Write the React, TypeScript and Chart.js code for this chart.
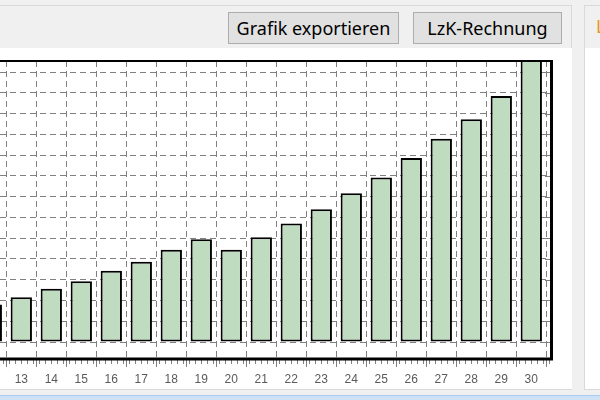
import React, { useEffect, useRef } from 'react';
import { Chart, registerables } from 'chart.js';

Chart.register(...registerables);

// ---- data ----
const days = [12, 13, 14, 15, 16, 17, 18, 19, 20, 21, 22, 23, 24, 25, 26, 27, 28, 29, 30];
const values = [1.8, 2.15, 2.57, 2.92, 3.43, 3.86, 4.44, 4.95, 4.44, 5.04, 5.71, 6.39, 7.16, 7.92, 8.86, 9.79, 10.73, 11.84, 13.6];
const yGridValues = [0, 1, 2, 3, 4, 5, 6, 7, 8, 9, 10, 11, 12, 13];
const buttonLabels = ['Grafik exportieren', 'LzK-Rechnung'];

const GRID = '#808080';

const framePlugin = {
  id: 'frame',
  afterDraw(chart: any) {
    const { ctx, chartArea: a, scales } = chart;
    const xs = scales.x;
    const ys = scales.y;
    ctx.save();
    // minor ticks below the frame (5 per day)
    ctx.strokeStyle = GRID;
    ctx.lineWidth = 1;
    ctx.beginPath();
    const start = Math.ceil(xs.min * 5);
    const end = Math.floor(xs.max * 5);
    for (let k = start; k <= end; k++) {
      const px = Math.round(xs.getPixelForValue(k / 5)) + 0.5;
      ctx.moveTo(px, a.bottom);
      ctx.lineTo(px, a.bottom + 6);
    }
    // inner ticks on the right border
    ys.ticks.forEach((t: any) => {
      const py = Math.round(ys.getPixelForValue(t.value)) + 0.5;
      ctx.moveTo(a.right - 6, py);
      ctx.lineTo(a.right, py);
    });
    ctx.stroke();
    // frame
    ctx.strokeStyle = '#000';
    ctx.lineWidth = 2;
    ctx.beginPath();
    ctx.moveTo(a.left, a.top);
    ctx.lineTo(a.right, a.top);
    ctx.stroke();
    ctx.lineWidth = 3;
    ctx.beginPath();
    ctx.moveTo(a.right + 0.5, a.top - 1);
    ctx.lineTo(a.right + 0.5, a.bottom + 2.5);
    ctx.moveTo(a.left, a.bottom + 1);
    ctx.lineTo(a.right + 2, a.bottom + 1);
    ctx.stroke();
    ctx.restore();
  },
};

function BarChart() {
  const ref = useRef<HTMLCanvasElement | null>(null);
  useEffect(() => {
    if (!ref.current) return;
    const chart = new Chart(ref.current, {
      type: 'bar',
      data: {
        datasets: [
          {
            data: days.map((d, i) => ({ x: d, y: values[i] })),
            backgroundColor: '#c0dcc0',
            borderColor: '#000000',
            borderWidth: 2,
            borderSkipped: false,
            barPercentage: 0.71,
            categoryPercentage: 1,
            clip: 0,
          } as any,
        ],
      },
      options: {
        responsive: false,
        animation: false,
        layout: { padding: { top: 13, right: 21, bottom: 0, left: 0 } },
        plugins: { legend: { display: false }, tooltip: { enabled: false } },
        scales: {
          x: {
            type: 'linear',
            min: 12.29,
            max: 30.657,
            offset: false,
            afterBuildTicks: (s: any) => {
              s.ticks = days.filter((d) => d >= s.min && d <= s.max).map((v) => ({ value: v }));
            },
            ticks: {
              font: { family: 'Liberation Sans', size: 12, lineHeight: 1.25 },
              color: '#5a5a5a',
              padding: 5,
              maxRotation: 0,
              autoSkip: false,
            },
            grid: {
              color: GRID,
              lineWidth: 1,
              drawTicks: true,
              tickLength: 9,
              tickColor: GRID,
              tickBorderDash: [],
            },
            border: { display: false, dash: [6, 4] },
          } as any,
          y: {
            type: 'linear',
            min: -0.77,
            max: 13.53,
            afterBuildTicks: (s: any) => {
              s.ticks = yGridValues.map((v) => ({ value: v }));
            },
            ticks: { display: false },
            grid: { color: GRID, lineWidth: 1, drawTicks: false },
            border: { display: false, dash: [6, 4] },
          } as any,
        },
      },
      plugins: [framePlugin],
    });
    return () => chart.destroy();
  }, []);
  return (
    <canvas
      ref={ref}
      width={572}
      height={344}
      style={{ position: 'absolute', left: 0, top: 48, width: 572, height: 344 }}
    />
  );
}

const buttonStyle: React.CSSProperties = {
  position: 'absolute',
  top: 12,
  height: 32,
  boxSizing: 'border-box',
  background: '#e1e1e1',
  border: '1px solid #adadad',
  fontFamily: 'Noto Sans',
  fontSize: 18,
  color: '#000',
  display: 'flex',
  alignItems: 'center',
  justifyContent: 'center',
  whiteSpace: 'nowrap',
};

export default function App() {
  return (
    <div
      style={{
        position: 'fixed',
        left: 0,
        top: 0,
        width: 600,
        height: 400,
        overflow: 'hidden',
        background: '#f0f0f0',
        fontFamily: 'Noto Sans',
      }}
    >
      {/* left panel */}
      <div
        style={{
          position: 'absolute',
          left: -1,
          top: 5,
          width: 573,
          height: 385,
          boxSizing: 'border-box',
          border: '1px solid #d9d9d9',
          background: '#f0f0f0',
        }}
      />
      <div style={{ position: 'absolute', left: 0, top: 48, width: 572, height: 341, background: '#ffffff' }} />
      <div style={{ ...buttonStyle, left: 228, width: 171 }}>{buttonLabels[0]}</div>
      <div style={{ ...buttonStyle, left: 413, width: 149 }}>{buttonLabels[1]}</div>
      {/* right panel */}
      <div
        style={{
          position: 'absolute',
          left: 584,
          top: 5,
          width: 40,
          height: 385,
          boxSizing: 'border-box',
          border: '1px solid #d9d9d9',
          background: '#f0f0f0',
        }}
      />
      <div style={{ position: 'absolute', left: 585, top: 48, width: 20, height: 341, background: '#ffffff' }} />
      <div
        style={{
          position: 'absolute',
          left: 596,
          top: 14,
          fontFamily: 'Noto Sans',
          fontSize: 18,
          color: '#e8961e',
          lineHeight: '24px',
        }}
      >
        L
      </div>
      {/* bottom strip */}
      <div
        style={{
          position: 'absolute',
          left: 0,
          top: 395,
          width: 600,
          height: 5,
          background: '#cfe2f5',
          borderTop: '1px solid #a9cdee',
          boxSizing: 'border-box',
        }}
      />
      <BarChart />
    </div>
  );
}
